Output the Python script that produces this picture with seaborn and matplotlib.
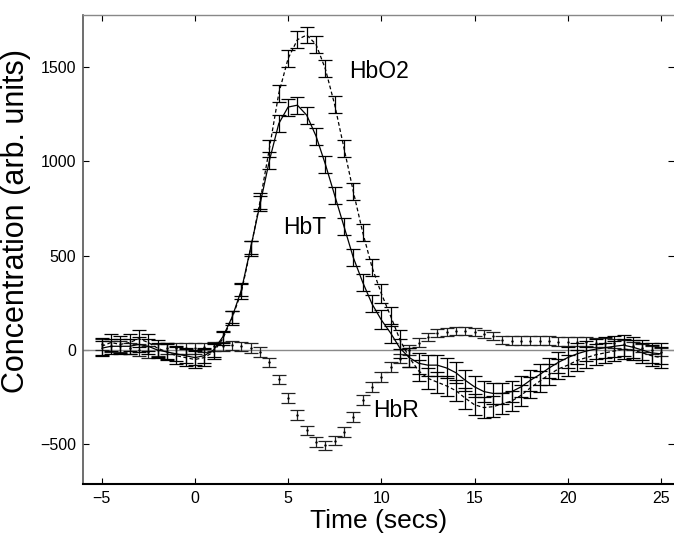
import numpy as np
import pandas as pd
import matplotlib
matplotlib.use("Agg")
import matplotlib.pyplot as plt
import seaborn as sns

# ---------------- data ----------------
time_s = [-5, -4.5, -4, -3.5, -3, -2.5, -2, -1.5, -1, -0.5,
          0, 0.5, 1, 1.5, 2, 2.5, 3, 3.5, 4, 4.5,
          5, 5.5, 6, 6.5, 7, 7.5, 8, 8.5, 9, 9.5,
          10, 10.5, 11, 11.5, 12, 12.5, 13, 13.5, 14, 14.5,
          15, 15.5, 16, 16.5, 17, 17.5, 18, 18.5, 19, 19.5,
          20, 20.5, 21, 21.5, 22, 22.5, 23, 23.5, 24, 24.5, 25]

hbo2 = [20, 40, 30, 40, 60, 40, 10, -10, -30, -40,
        -50, -40, -10, 60, 170, 310, 540, 790, 1070, 1360,
        1545, 1645, 1670, 1620, 1490, 1300, 1070, 840, 625, 440,
        300, 180, 55, -40, -110, -150, -170, -190, -215, -255,
        -290, -305, -300, -285, -270, -240, -200, -165, -130, -100,
        -80, -55, -40, -25, -15, -5, 5, 0, -15, -30, -40]

hbt = [10, 20, 20, 20, 30, 20, 0, -10, -20, -30,
       -40, -30, 0, 70, 175, 320, 545, 775, 1005, 1200,
       1288, 1298, 1245, 1134, 985, 820, 655, 490, 360, 245,
       160, 90, 10, -40, -70, -80, -80, -95, -120, -160,
       -195, -220, -230, -230, -220, -195, -160, -130, -95, -65,
       -40, -20, -5, 5, 12, 20, 26, 15, 0, -15, -20]

hbr = [30, 20, 20, 10, 0, -10, 0, 10, 10, 10,
       10, 15, 20, 20, 25, 20, 10, -10, -65, -155,
       -255, -345, -425, -487, -505, -480, -435, -355, -265, -196,
       -143, -90, -45, 0, 40, 70, 90, 95, 100, 100,
       95, 85, 74, 53, 50, 50, 50, 50, 50, 45,
       45, 45, 45, 40, 40, 35, 30, 20, 10, 0, -10]

hbo2_err = [45, 45, 45, 45, 45, 45, 45, 45, 45, 45,
            45, 45, 40, 35, 35, 40, 40, 40, 45, 45,
            45, 45, 45, 45, 45, 45, 45, 45, 45, 45,
            50, 50, 50, 50, 55, 55, 55, 55, 55, 55,
            55, 55, 55, 55, 55, 55, 55, 55, 55, 55,
            55, 55, 55, 55, 55, 55, 55, 55, 55, 55, 55]

hbt_err = [40, 40, 40, 40, 40, 40, 40, 40, 40, 40,
           40, 40, 35, 30, 30, 35, 35, 40, 45, 45,
           45, 45, 45, 45, 45, 45, 45, 45, 45, 45,
           50, 50, 50, 50, 55, 55, 55, 55, 55, 55,
           55, 55, 55, 55, 55, 55, 55, 55, 55, 55,
           55, 55, 55, 55, 55, 55, 55, 55, 55, 55, 55]

hbr_err = [30, 30, 30, 30, 30, 30, 30, 30, 30, 30,
           30, 25, 25, 25, 25, 25, 25, 25, 25, 25,
           25, 25, 25, 25, 25, 25, 25, 25, 25, 25,
           25, 25, 25, 25, 22, 22, 22, 22, 22, 22,
           22, 22, 22, 22, 22, 22, 22, 22, 22, 22,
           22, 22, 22, 22, 22, 22, 22, 22, 22, 22, 22]

series_labels = ["HbO2", "HbT", "HbR"]

# ---------------- styling ----------------
sns.set_style("white")
plt.rcParams["font.family"] = ["Liberation Sans", "DejaVu Sans"]
plt.rcParams["text.color"] = "black"
plt.rcParams["axes.labelcolor"] = "black"
plt.rcParams["xtick.color"] = "black"
plt.rcParams["ytick.color"] = "black"

df = pd.DataFrame({"t": time_s, "HbO2": hbo2, "HbT": hbt, "HbR": hbr})

fig = plt.figure(figsize=(6.74, 5.36), dpi=100)
ax = fig.add_axes([83 / 674, 52 / 536, 591 / 674, 469 / 536])

ax.axhline(0, color="#8a8a8a", lw=1.0, zorder=1)

bar_kw = dict(fmt="none", capsize=5, capthick=0.9, elinewidth=0.9, zorder=3)
ax.errorbar(df["t"], df["HbR"], yerr=hbr_err, ecolor="#222222", **bar_kw)
ax.errorbar(df["t"], df["HbO2"], yerr=hbo2_err, ecolor="black", **bar_kw)
ax.errorbar(df["t"], df["HbT"], yerr=hbt_err, ecolor="black", **bar_kw)

sns.lineplot(data=df, x="t", y="HbO2", ax=ax, color="black", lw=0.9,
             linestyle=(0, (3, 2)), zorder=4)
sns.lineplot(data=df, x="t", y="HbT", ax=ax, color="black", lw=0.9, zorder=4)
sns.scatterplot(data=df, x="t", y="HbR", ax=ax, color="black", s=3,
                linewidth=0, zorder=4)

ax.text(8.3, 1474, series_labels[0], fontsize=16.5, va="center", ha="left",
        color="black")
ax.text(4.75, 652, series_labels[1], fontsize=16.5, va="center", ha="left",
        color="black")
ax.text(9.55, -318, series_labels[2], fontsize=16.5, va="center", ha="left",
        color="black")

ax.set_xlim(-6, 25.7)
ax.set_ylim(-710, 1776)
ax.set_xticks([-5, 0, 5, 10, 15, 20, 25])
ax.set_yticks([-500, 0, 500, 1000, 1500])

ax.tick_params(axis="both", direction="in", length=4, width=0.8,
               labelsize=11.5, colors="black", top=True, right=True,
               left=True, bottom=True, pad=5)

ax.spines["left"].set_visible(True)
ax.spines["left"].set_color("#555555")
ax.spines["left"].set_linewidth(1.2)
ax.spines["top"].set_visible(True)
ax.spines["top"].set_color("#888888")
ax.spines["top"].set_linewidth(1.0)
ax.spines["right"].set_visible(False)
ax.spines["bottom"].set_visible(True)
ax.spines["bottom"].set_color("black")
ax.spines["bottom"].set_linewidth(1.5)

ax.set_xlabel("Time (secs)", fontsize=19, labelpad=2, color="black")
ax.set_ylabel("Concentration (arb. units)", fontsize=22, color="black")
ax.yaxis.set_label_coords(-0.088, 0.56)

fig.savefig("out.png", dpi=100)
